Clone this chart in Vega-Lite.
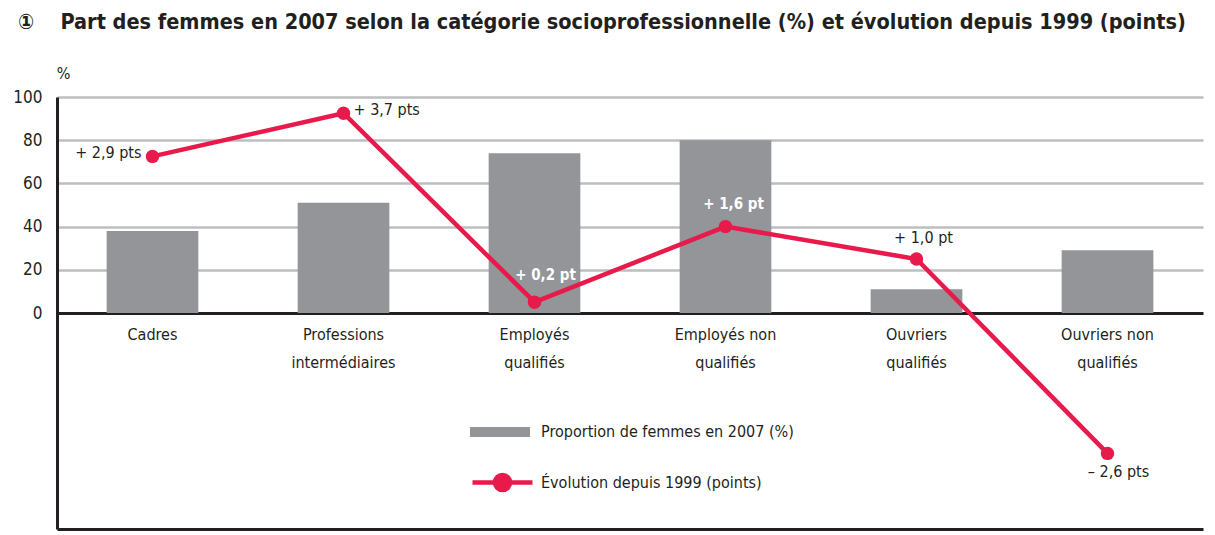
{
  "$schema": "https://vega.github.io/schema/vega-lite/v6.json",
  "width": 1146,
  "height": 432,
  "autosize": {"type": "none"},
  "padding": {"left": 57, "top": 97, "right": 12, "bottom": 6},
  "background": "white",
  "config": {
    "font": "DejaVu Sans Condensed, sans-serif",
    "view": {"stroke": null},
    "text": {"font": "DejaVu Sans Condensed, sans-serif"}
  },
  "title": {
    "text": "①\u2003 Part des femmes en 2007 selon la catégorie socioprofessionnelle (%) et évolution depuis 1999 (points)",
    "anchor": "start",
    "frame": "group",
    "dx": -39,
    "fontSize": 21.5,
    "fontWeight": "bold",
    "color": "#231f20",
    "baseline": "alphabetic",
    "offset": 15
  },
  "data": {
    "values": [
      {"categorie": "Cadres", "part": 38, "evolution": 2.9, "etiquette": "+ 2,9 pts"},
      {"categorie": "Professions intermédiaires", "part": 51, "evolution": 3.7, "etiquette": "+ 3,7 pts"},
      {"categorie": "Employés qualifiés", "part": 74, "evolution": 0.2, "etiquette": "+ 0,2 pt"},
      {"categorie": "Employés non qualifiés", "part": 80, "evolution": 1.6, "etiquette": "+ 1,6 pt"},
      {"categorie": "Ouvriers qualifiés", "part": 11, "evolution": 1.0, "etiquette": "+ 1,0 pt"},
      {"categorie": "Ouvriers non qualifiés", "part": 29, "evolution": -2.6, "etiquette": "– 2,6 pts"}
    ]
  },
  "encoding": {
    "x": {
      "field": "categorie",
      "type": "nominal",
      "sort": null,
      "scale": {"paddingInner": 0.52, "paddingOuter": 0.26},
      "axis": {
        "title": null,
        "orient": "bottom",
        "domainColor": "#231f20",
        "domainWidth": 3,
        "ticks": false,
        "tickSize": 0,
        "labelPadding": -203,
        "labelBaseline": "top",
        "labelAngle": 0,
        "labelFontSize": 16,
        "labelLineHeight": 28,
        "labelColor": "#231f20",
        "labelExpr": "indexof(datum.value, ' ') < 0 ? datum.value : [substring(datum.value, 0, lastindexof(datum.value, ' ')), substring(datum.value, lastindexof(datum.value, ' ') + 1)]"
      }
    }
  },
  "layer": [
    {
      "mark": {"type": "bar", "color": "#939598"},
      "encoding": {
        "y": {
          "field": "part",
          "type": "quantitative",
          "scale": {"domain": [-100, 100], "nice": false},
          "axis": {
            "title": "%",
            "titleAngle": 0,
            "titleX": 6,
            "titleY": -24,
            "titleAlign": "center",
            "titleBaseline": "middle",
            "titleFontSize": 16,
            "titleFontWeight": "normal",
            "titleColor": "#231f20",
            "values": [0, 20, 40, 60, 80, 100],
            "ticks": false,
            "tickSize": 0,
            "labelPadding": 15,
            "labelFontSize": 17,
            "labelColor": "#231f20",
            "domainColor": "#231f20",
            "domainWidth": 3,
            "grid": true,
            "gridColor": {"condition": {"test": "datum.value === 0", "value": "#231f20"}, "value": "#bcbec0"},
            "gridWidth": {"condition": {"test": "datum.value === 0", "value": 3}, "value": 2.5},
            "gridOpacity": 1
          }
        },
        "fill": {
          "datum": "Proportion de femmes en 2007 (%)",
          "scale": {"range": ["#939598"]},
          "legend": {
            "title": null,
            "orient": "none",
            "legendX": 413,
            "legendY": 305,
            "padding": 0,
            "symbolType": "M-1,-0.1667H1V0.1667H-1Z",
            "symbolSize": 3600,
            "symbolStrokeWidth": 0,
            "symbolOpacity": 1,
            "labelFontSize": 16,
            "labelLimit": 0,
            "labelColor": "#231f20",
            "labelOffset": 11,
            "labelFont": "DejaVu Sans Condensed, sans-serif"
          }
        }
      }
    },
    {
      "encoding": {
        "y": {
          "field": "evolution",
          "type": "quantitative",
          "scale": {"domain": [-4, 4], "nice": false},
          "axis": null
        }
      },
      "layer": [
        {
          "mark": {"type": "line", "color": "#e8194b", "strokeWidth": 4.5},
          "encoding": {
            "stroke": {
              "datum": "Évolution depuis 1999 (points)",
              "scale": {"range": ["#e8194b"]},
              "legend": {
                "title": null,
                "orient": "none",
                "legendX": 413,
                "legendY": 353,
                "padding": 0,
                "symbolType": "M-1,0L1,0M-0.25,0A0.25,0.25,0,1,1,0.25,0A0.25,0.25,0,1,1,-0.25,0Z",
                "symbolSize": 3600,
                "symbolStrokeWidth": 4.5,
                "symbolFillColor": "#e8194b",
                "symbolStrokeColor": "#e8194b",
                "labelFontSize": 16,
                "labelLimit": 0,
                "labelColor": "#231f20",
                "labelOffset": 6,
                "labelFont": "DejaVu Sans Condensed, sans-serif",
                "symbolOpacity": 1
              }
            }
          }
        },
        {
          "mark": {"type": "point", "filled": true, "color": "#e8194b", "size": 180, "opacity": 1}
        },
        {
          "transform": [{"filter": "datum.categorie === 'Cadres'"}],
          "mark": {"type": "text", "align": "right", "baseline": "middle", "dx": -11, "dy": -3, "fontSize": 16, "color": "#231f20"},
          "encoding": {"text": {"field": "etiquette"}}
        },
        {
          "transform": [{"filter": "datum.categorie === 'Professions intermédiaires'"}],
          "mark": {"type": "text", "align": "left", "baseline": "middle", "dx": 10, "dy": -3, "fontSize": 16, "color": "#231f20"},
          "encoding": {"text": {"field": "etiquette"}}
        },
        {
          "transform": [{"filter": "datum.categorie === 'Employés qualifiés'"}],
          "mark": {"type": "text", "align": "center", "baseline": "middle", "dx": 11, "dy": -27, "fontSize": 15, "fontWeight": "bold", "color": "white"},
          "encoding": {"text": {"field": "etiquette"}}
        },
        {
          "transform": [{"filter": "datum.categorie === 'Employés non qualifiés'"}],
          "mark": {"type": "text", "align": "center", "baseline": "middle", "dx": 8, "dy": -23, "fontSize": 15, "fontWeight": "bold", "color": "white"},
          "encoding": {"text": {"field": "etiquette"}}
        },
        {
          "transform": [{"filter": "datum.categorie === 'Ouvriers qualifiés'"}],
          "mark": {"type": "text", "align": "center", "baseline": "middle", "dx": 7, "dy": -21, "fontSize": 16, "color": "#231f20"},
          "encoding": {"text": {"field": "etiquette"}}
        },
        {
          "transform": [{"filter": "datum.categorie === 'Ouvriers non qualifiés'"}],
          "mark": {"type": "text", "align": "center", "baseline": "middle", "dx": 11, "dy": 19, "fontSize": 16, "color": "#231f20"},
          "encoding": {"text": {"field": "etiquette"}}
        }
      ]
    }
  ],
  "resolve": {"scale": {"y": "independent"}, "legend": {"fill": "independent", "stroke": "independent"}}
}
